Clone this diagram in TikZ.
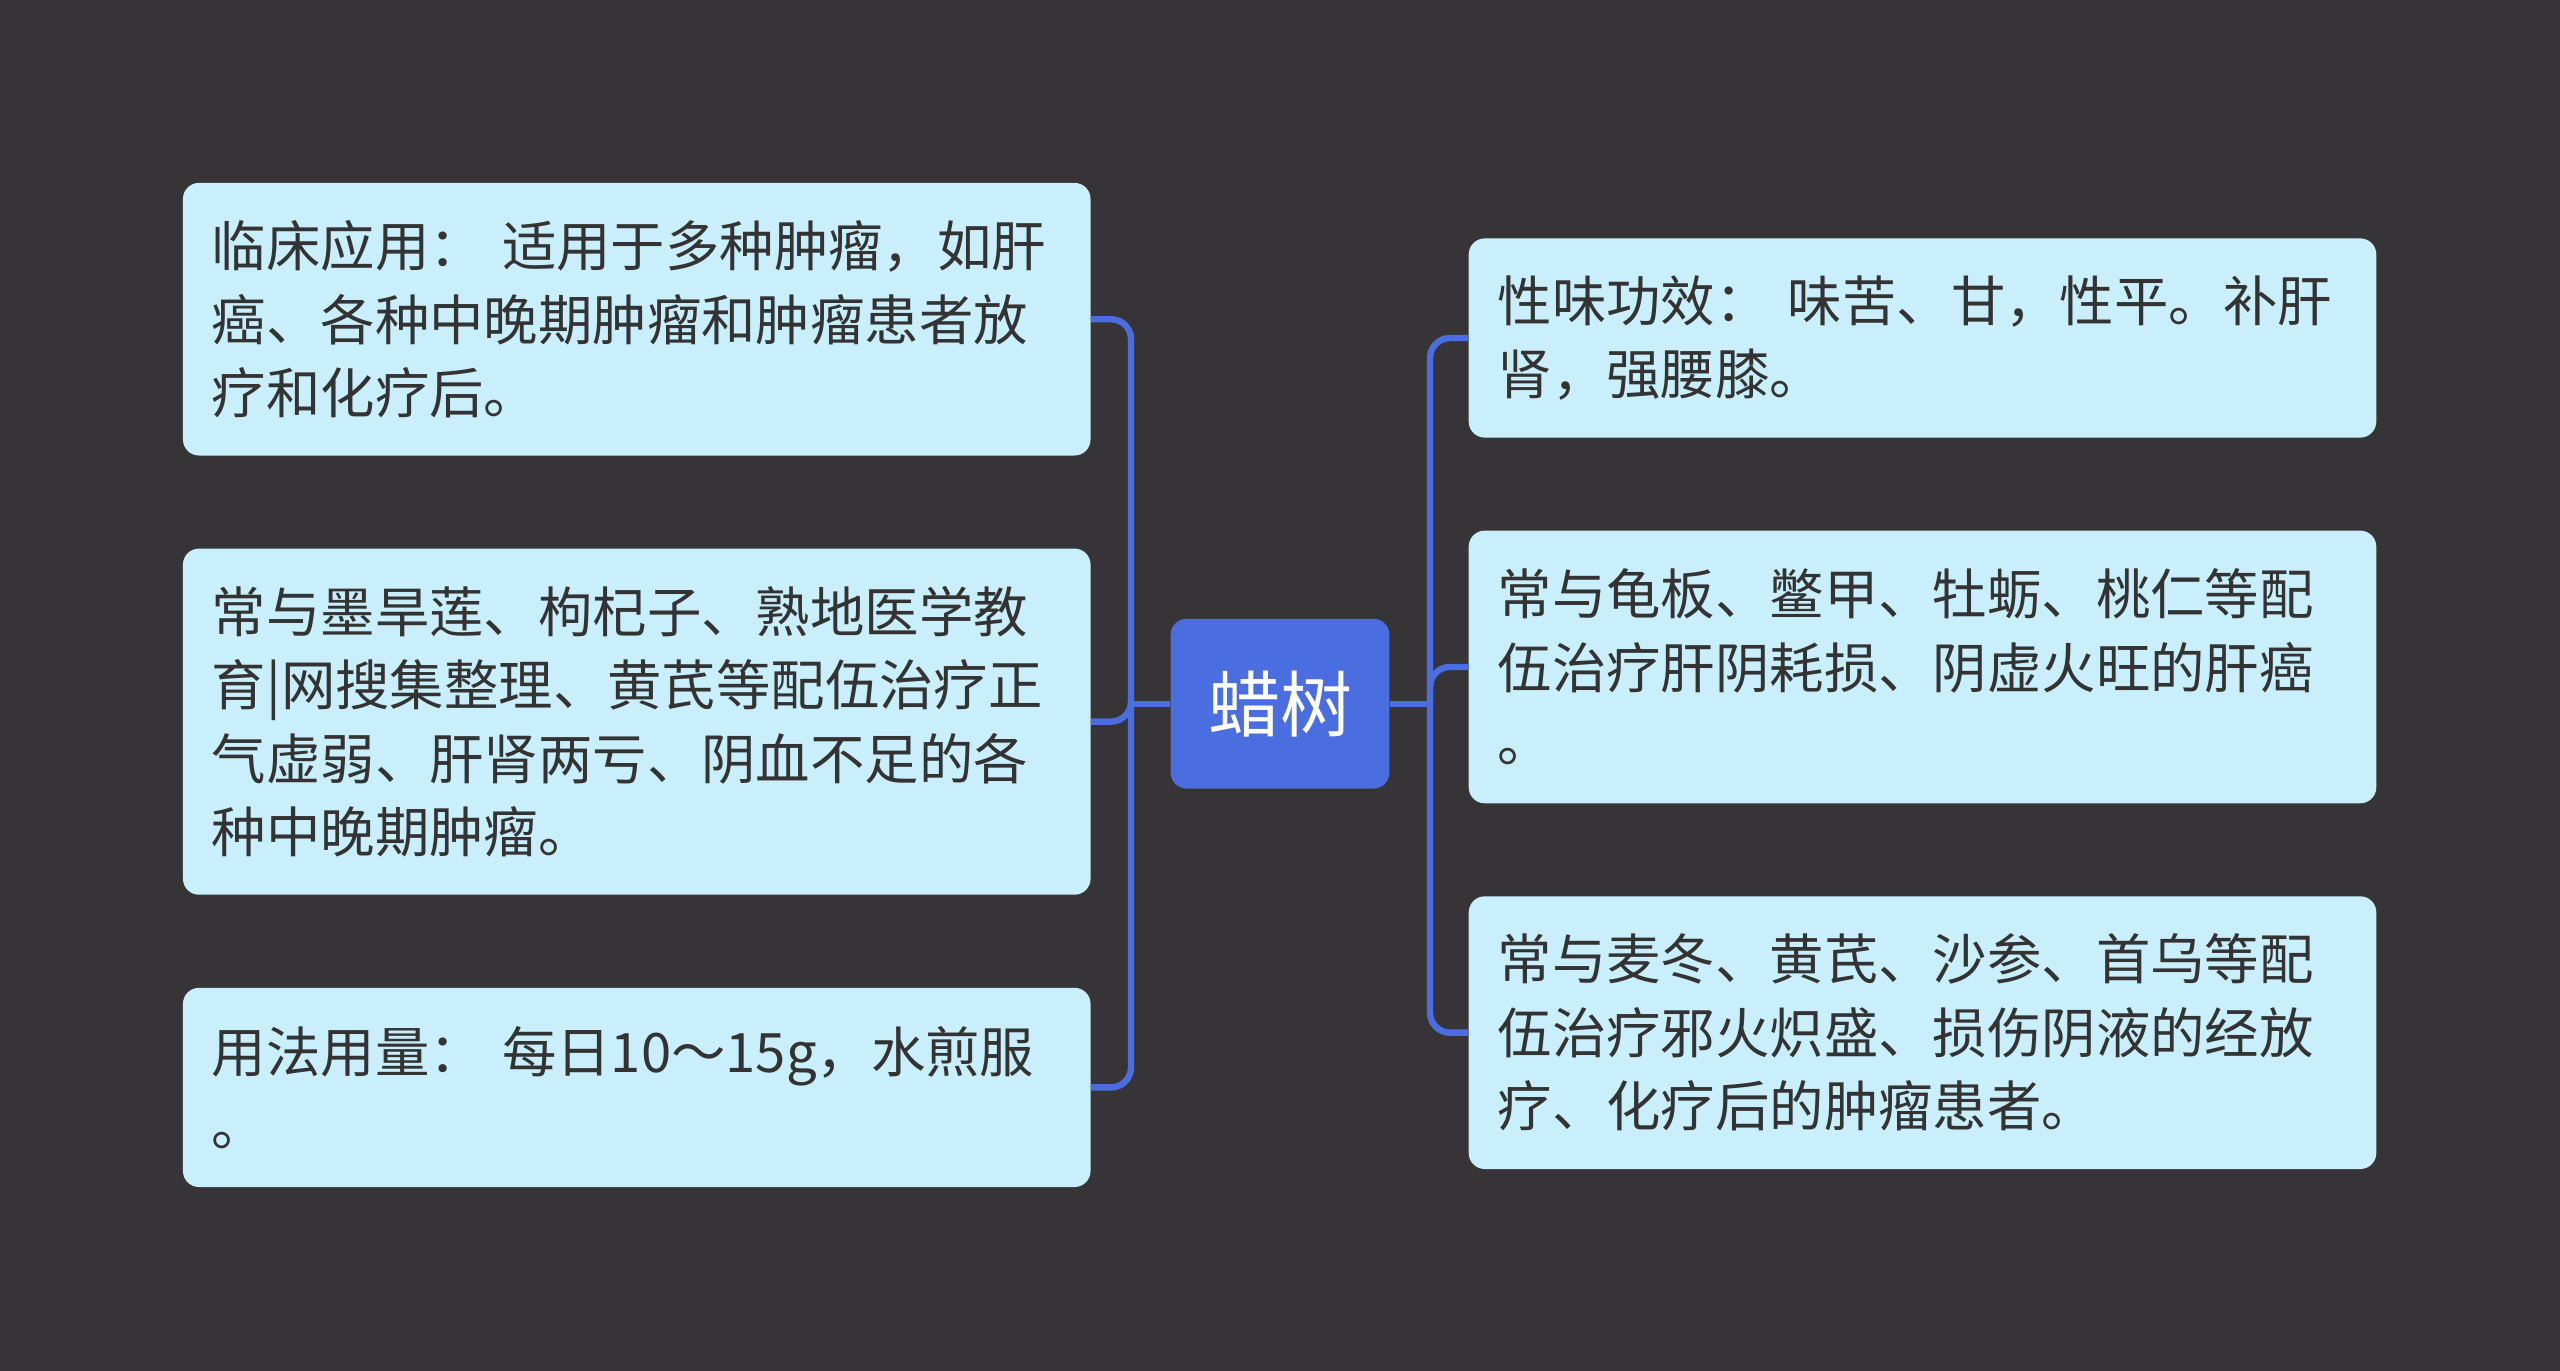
\documentclass[tikz,border=0pt]{standalone}
\usepackage{fontspec}
\setmainfont{Noto Sans CJK SC}
\definecolor{bgc}{HTML}{363436}
\definecolor{boxc}{HTML}{C9EEFC}
\definecolor{linec}{HTML}{4A6EE0}
\definecolor{txtc}{HTML}{333333}
\tikzset{
  leaf/.style={draw=none, fill=boxc, rounded corners=8pt, text=txtc, align=left,
    inner xsep=14.5pt, inner ysep=0pt, text width=424.8pt, minimum width=453.6pt,
    font=\fontsize{27.2pt}{36.7pt}\selectfont},
  rootbox/.style={fill=linec, rounded corners=8pt, text=white, minimum width=109.4pt,
    minimum height=84.9pt, inner sep=0pt, font=\fontsize{36pt}{44pt}\selectfont},
  conn/.style={draw=linec, line width=3.2pt},
  connr/.style={draw=linec, line width=3.2pt, rounded corners=10pt}
}
\begin{document}
\begin{tikzpicture}[x=0.5pt,y=-0.5pt]
\fill[bgc] (0,0) rectangle (2560,1371);
\useasboundingbox (0,0) rectangle (2560,1371);
\coordinate (tl) at (1131,0);
\coordinate (tr) at (1430,0);
\node[rootbox] (c) at (1280,703.7) {蜡树};
\node[leaf, minimum height=136.3pt] (l1) at (636.75,319.2) {临床应用： 适用于多种肿瘤，如肝\\癌、各种中晚期肿瘤和肿瘤患者放\\疗和化疗后。};
\node[leaf, minimum height=173.05pt] (l2) at (636.75,721.65) {常与墨旱莲、枸杞子、熟地医学教\\育|网搜集整理、黄芪等配伍治疗正\\气虚弱、肝肾两亏、阴血不足的各\\种中晚期肿瘤。};
\node[leaf, minimum height=99.6pt] (l3) at (636.75,1087.4) {用法用量： 每日10～15g，水煎服\\。};
\node[leaf, minimum height=99.6pt] (r1) at (1922.5,338) {性味功效： 味苦、甘，性平。补肝\\肾，强腰膝。};
\node[leaf, minimum height=136.35pt] (r2) at (1922.5,666.95) {常与龟板、鳖甲、牡蛎、桃仁等配\\伍治疗肝阴耗损、阴虚火旺的肝癌\\。};
\node[leaf, minimum height=136.35pt] (r3) at (1922.5,1032.65) {常与麦冬、黄芪、沙参、首乌等配\\伍治疗邪火炽盛、损伤阴液的经放\\疗、化疗后的肿瘤患者。};
\draw[conn] (c.west) -- (c.west -| tl);
\draw[connr] (c.west -| tl) |- (l1.east);
\draw[connr] (c.west -| tl) |- (l2.east);
\draw[connr] (c.west -| tl) |- (l3.east);
\draw[conn] (c.east) -- (c.east -| tr);
\draw[connr] (c.east -| tr) |- (r1.west);
\draw[connr] (c.east -| tr) |- (r2.west);
\draw[connr] (c.east -| tr) |- (r3.west);
\end{tikzpicture}
\end{document}
